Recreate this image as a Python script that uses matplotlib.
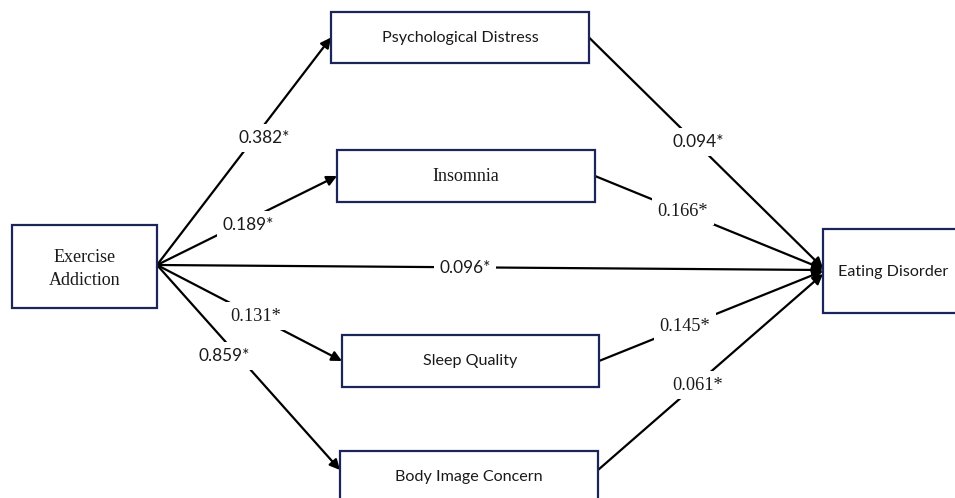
import matplotlib
matplotlib.use("Agg")
import matplotlib.pyplot as plt
from matplotlib.patches import Rectangle

# node labels
source_label = "Exercise\nAddiction"
target_label = "Eating Disorder"
mediators = ["Psychological Distress", "Insomnia", "Sleep Quality", "Body Image Concern"]

# path coefficients
a_paths = ["0.382*", "0.189*", "0.131*", "0.859*"]   # exercise -> mediator
b_paths = ["0.094*", "0.166*", "0.145*", "0.061*"]   # mediator -> eating disorder
direct_path = "0.096*"

# layout (pixel coords, y down)
W, H = 955, 498
src_box = (12, 225, 145, 83)
tgt_box = (823, 229, 150, 84)
med_boxes = [(331, 12, 258, 51), (337, 150, 258, 52), (342, 335, 257, 52), (340, 451, 258, 60)]
med_fonts = ["Lato", "Liberation Serif", "Lato", "Lato"]
src_pt = (157, 265)
tgt_pts = [(823, 268), (823, 269), (823, 271), (823, 274)]
a_label_pos = [(264, 138), (248, 225), (256, 316), (224, 356)]
a_label_fonts = ["Lato", "Lato", "Liberation Serif", "Lato"]
b_label_pos = [(698, 142), (683, 211), (685, 326), (698, 385)]
b_label_fonts = ["Lato", "Liberation Serif", "Liberation Serif", "Liberation Serif"]
direct_pos = (465, 268)

fig = plt.figure(figsize=(W / 100, H / 100), dpi=100)
ax = fig.add_axes([0, 0, 1, 1])
ax.set_xlim(0, W)
ax.set_ylim(H, 0)
ax.axis("off")

box_col = "#1c2559"
txt_col = "#1a1a1a"
line_kw = dict(arrowstyle="-|>,head_length=0.6,head_width=0.3", color="black", lw=1.6,
               shrinkA=0, shrinkB=0)


def size_for(family):
    return 13 if family == "Liberation Serif" else 11.6


def draw_box(b, text, family, text_y=None, text_x=None):
    x, y, w, h = b
    ax.add_patch(Rectangle((x, y), w, h, facecolor="white", edgecolor=box_col, lw=1.6, zorder=3))
    ty = y + h / 2 if text_y is None else y + text_y
    tx = x + w / 2 if text_x is None else x + text_x
    ax.text(tx, ty, text, ha="center", va="center", fontsize=size_for(family),
            family=family, color=txt_col, zorder=4, linespacing=1.45)


def label(pos, text, family):
    fs = 13.2 if family == "Liberation Serif" else 12.4
    ax.text(pos[0], pos[1], text, ha="center", va="center", fontsize=fs, family=family,
            color=txt_col, zorder=5,
            bbox=dict(facecolor="white", edgecolor="none", pad=4))


for i, b in enumerate(med_boxes):
    x, y, w, h = b
    mid = y + (h if i < 3 else 38) / 2
    # a path
    ax.annotate("", xy=(x, mid), xytext=src_pt, arrowprops=line_kw, zorder=2)
    # b path
    ax.annotate("", xy=tgt_pts[i], xytext=(x + w, mid), arrowprops=line_kw, zorder=2)

ax.annotate("", xy=(823, 270), xytext=src_pt, arrowprops=line_kw, zorder=2)

draw_box(src_box, source_label, "Liberation Serif", text_y=44)
draw_box(tgt_box, target_label, "Lato", text_y=43, text_x=70)
for i, (b, name, fam) in enumerate(zip(med_boxes, mediators, med_fonts)):
    draw_box(b, name, fam, text_y=26 if i == 3 else None)

for pos, txt, fam in zip(a_label_pos, a_paths, a_label_fonts):
    label(pos, txt, fam)
for pos, txt, fam in zip(b_label_pos, b_paths, b_label_fonts):
    label(pos, txt, fam)
label(direct_pos, direct_path, "Lato")

fig.savefig("out.png", dpi=100)
